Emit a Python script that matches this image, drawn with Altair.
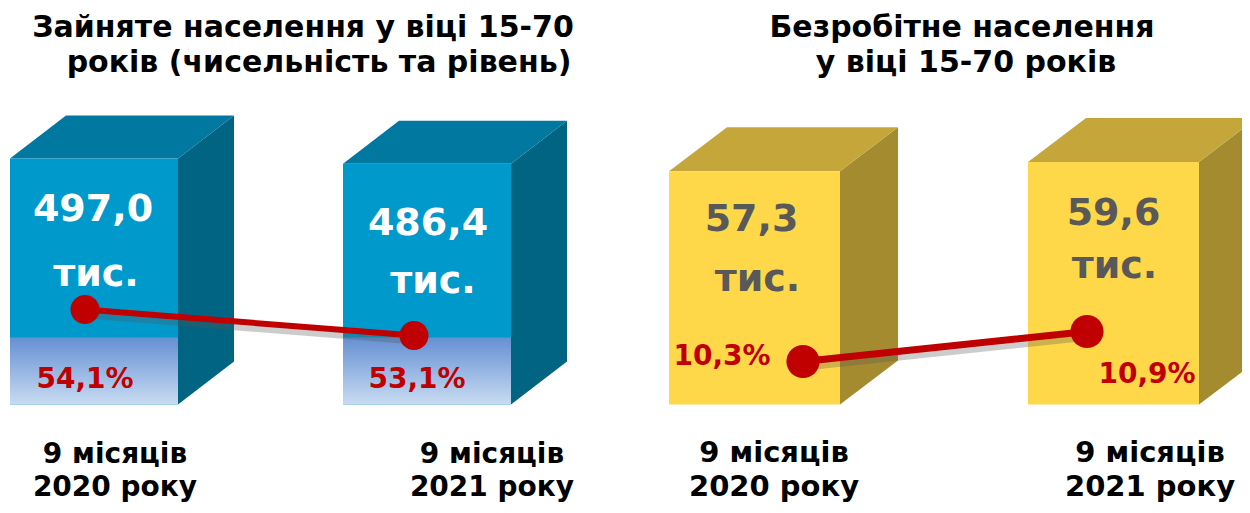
import altair as alt
import pandas as pd

# ---------------- data ----------------
period_line1 = ["9 місяців", "9 місяців"]
period_line2 = ["2020 року", "2021 року"]
employed_thousands = [497.0, 486.4]
employment_rate = [54.1, 53.1]
unemployed_thousands = [57.3, 59.6]
unemployment_rate = [10.3, 10.9]
titles_employed = ["Зайняте населення у віці 15-70", "років (чисельність та рівень)"]
titles_unemployed = ["Безробітне населення", "у віці 15-70 років"]
unit_label = "тис."

# ---------------- layout / style ----------------
FONT = "DejaVu Sans"
BASE = 404.5          # floor of the boxes (page pixels)
RED = "#C00000"
panels = [
    dict(name="emp", values=employed_thousands, rates=employment_rate,
         left=[10, 343], w=168, k=0.495, dx=56, dy=43,
         rate0=50.45, rate_k=26, dot_x=[85, 414], dot_size=841, line_w=6,
         front="#0099CC", top="#00789F", side="#006482", txt="#FFFFFF",
         band=True, pct_off=[(0, 70), (3, 44)], num_off=[(-1, 52), (1, 60)],
         unit_off=[(2, 117), (6, 118)],
         cat_x=[115, 492], cat_y=[455, 488], cat_s=28,
         titles=titles_employed, title_x=[303, 319], title_y=[28, 63]),
    dict(name="unemp", values=unemployed_thousands, rates=unemployment_rate,
         left=[669, 1028], w=171, k=4.07, dx=58, dy=44,
         rate0=9.44, rate_k=50, dot_x=[803, 1087], dot_size=1100, line_w=7,
         front="#FFD84A", top="#C4A63A", side="#A58B2F", txt="#595959",
         band=False, pct_off=[(-81, -5), (60, 43)], num_off=[(-3, 49), (0, 52)],
         unit_off=[(3, 109), (1, 105)],
         cat_x=[774, 1150], cat_y=[453, 487], cat_s=29,
         titles=titles_unemployed, title_x=[962, 966], title_y=[28, 63]),
]


def fmt(v):
    return f"{v:.1f}".replace(".", ",")


front, side, topf, band, dots, texts = [], [], [], [], [], []
for p in panels:
    for i, (v, r) in enumerate(zip(p["values"], p["rates"])):
        box = f"{p['name']}{i}"
        left = p["left"][i]
        right = left + p["w"]
        top = BASE - v * p["k"]
        cx = (left + right) / 2
        front.append(dict(box=box, x=left, x2=right, y=top, y2=BASE, fill=p["front"]))
        side.append(dict(box=box, x=right, y=top, y2=BASE, fill=p["side"]))
        side.append(dict(box=box, x=right + p["dx"], y=top - p["dy"], y2=BASE - p["dy"], fill=p["side"]))
        topf.append(dict(box=box, y=top, x=left, x2=right, fill=p["top"]))
        topf.append(dict(box=box, y=top - p["dy"], x=left + p["dx"], x2=right + p["dx"], fill=p["top"]))
        if p["band"]:
            band.append(dict(box=box, x=left, x2=right, y=BASE - 67, y2=BASE))
        dy_ = BASE - (r - p["rate0"]) * p["rate_k"]
        dx_ = p["dot_x"][i]
        dots.append(dict(panel=p["name"], x=dx_, y=dy_, size=p["dot_size"], w=p["line_w"]))
        ox, oy = p["pct_off"][i]
        texts.append(dict(x=dx_ + ox, y=dy_ + oy, t=fmt(r) + "%", c=RED, s=28))
        nx, ny = p["num_off"][i]
        texts.append(dict(x=cx + nx, y=top + ny, t=fmt(v), c=p["txt"], s=38))
        ux, uy = p["unit_off"][i]
        texts.append(dict(x=cx + ux, y=top + uy, t=unit_label, c=p["txt"], s=38))
        texts.append(dict(x=p["cat_x"][i], y=p["cat_y"][0], t=period_line1[i], c="#000000", s=p["cat_s"]))
        texts.append(dict(x=p["cat_x"][i], y=p["cat_y"][1], t=period_line2[i], c="#000000", s=p["cat_s"]))
    for j, t in enumerate(p["titles"]):
        texts.append(dict(x=p["title_x"][j], y=p["title_y"][j], t=t, c="#000000", s=30))

XS = alt.Scale(domain=[8, 1242], nice=False, zero=False)
YS = alt.Scale(domain=[8, 505], nice=False, zero=False, reverse=True)


def X(f):
    return alt.X(f, type="quantitative", scale=XS, axis=None)


def Y(f):
    return alt.Y(f, type="quantitative", scale=YS, axis=None, stack=None)


fill_id = alt.Fill("fill:N", scale=None, legend=None)

side_layer = alt.Chart(pd.DataFrame(side)).mark_area(orient="vertical").encode(
    x=X("x"), y=Y("y"), y2="y2:Q", fill=fill_id, detail="box:N")
top_layer = alt.Chart(pd.DataFrame(topf)).mark_area(orient="horizontal").encode(
    y=Y("y"), x=X("x"), x2="x2:Q", fill=fill_id, detail="box:N")
front_layer = alt.Chart(pd.DataFrame(front)).mark_rect().encode(
    x=X("x"), x2="x2:Q", y=Y("y"), y2="y2:Q", fill=fill_id)
band_layer = alt.Chart(pd.DataFrame(band)).mark_rect(
    fill=alt.Gradient(gradient="linear", x1=0, x2=0, y1=0, y2=1,
                      stops=[alt.GradientStop(color="#6590D3", offset=0),
                             alt.GradientStop(color="#C8DBF2", offset=1)])
).encode(x=X("x"), x2="x2:Q", y=Y("y"), y2="y2:Q")

dots_df = pd.DataFrame(dots)
shadow_layer = alt.Chart(dots_df).transform_calculate(
    xs="datum.x + 2", ys="datum.y + 5").mark_line(
    color="#555555", opacity=0.3, strokeWidth=8, strokeCap="round").encode(
    x=X("xs"), y=Y("ys"), detail="panel:N")
line_layer = alt.Chart(dots_df).mark_line(color=RED, strokeCap="round").encode(
    x=X("x"), y=Y("y"), detail="panel:N",
    strokeWidth=alt.StrokeWidth("w:Q", scale=None, legend=None))
dot_layer = alt.Chart(dots_df).mark_circle(color=RED, opacity=1).encode(
    x=X("x"), y=Y("y"), size=alt.Size("size:Q", scale=None, legend=None))

text_layer = alt.Chart(pd.DataFrame(texts)).mark_text(
    font=FONT, fontWeight="bold", align="center", baseline="middle").encode(
    x=X("x"), y=Y("y"), text="t:N",
    color=alt.Color("c:N", scale=None, legend=None),
    size=alt.Size("s:Q", scale=None, legend=None))

chart = alt.layer(
    side_layer, top_layer, front_layer, band_layer,
    shadow_layer, line_layer, dot_layer, text_layer
).properties(
    width=1234, height=497, padding=0, background="white",
    autosize=alt.AutoSizeParams(type="none")
).configure_view(stroke=None)

chart.save("out.html", embed_options={"renderer": "svg", "actions": False})
